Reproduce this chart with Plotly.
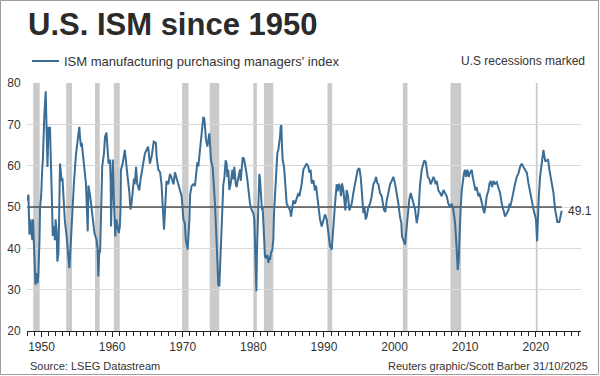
import plotly.graph_objects as go

# ---- data ----
years = [
    1948.00, 1948.15, 1948.30, 1948.45, 1948.70, 1948.80, 1948.90, 1949.05, 1949.15, 1949.30,
    1949.45, 1949.55, 1949.65, 1949.72, 1949.80, 1949.95, 1950.10, 1950.20, 1950.40, 1950.50,
    1950.60, 1950.85, 1951.00, 1951.10, 1951.20, 1951.45, 1951.52, 1951.60, 1951.75, 1951.90,
    1952.00, 1952.15, 1952.25, 1952.40, 1952.50, 1952.55, 1952.62, 1952.72, 1952.85, 1952.97,
    1953.10, 1953.30, 1953.55, 1953.80, 1953.95, 1954.10, 1954.30, 1954.50, 1954.60, 1954.90,
    1955.08, 1955.36, 1955.45, 1955.60, 1955.70, 1955.83, 1956.30, 1956.55, 1956.65, 1956.90,
    1957.10, 1957.25, 1957.40, 1957.50, 1957.80, 1957.95, 1958.05, 1958.20, 1958.30, 1958.40,
    1958.50, 1958.60, 1958.85, 1959.00, 1959.20, 1959.30, 1959.50, 1959.70, 1959.80, 1959.85,
    1959.95, 1960.10, 1960.25, 1960.45, 1960.60, 1960.75, 1960.95, 1961.10, 1961.20, 1961.25,
    1961.50, 1961.80, 1961.97, 1962.20, 1962.45, 1962.60, 1962.75, 1962.90, 1963.10, 1963.20,
    1963.30, 1963.40, 1963.55, 1963.85, 1964.05, 1964.35, 1964.50, 1964.65, 1965.10, 1965.25,
    1965.35, 1965.60, 1965.90, 1966.20, 1966.30, 1966.55, 1966.80, 1967.00, 1967.25, 1967.35,
    1967.50, 1967.70, 1967.95, 1968.20, 1968.45, 1968.70, 1968.90, 1969.15, 1969.40, 1969.60,
    1969.85, 1970.10, 1970.30, 1970.45, 1970.70, 1970.95, 1971.05, 1971.27, 1971.50, 1971.74,
    1971.88, 1972.07, 1972.21, 1972.35, 1972.54, 1972.68, 1972.92, 1973.06, 1973.15, 1973.30,
    1973.49, 1973.63, 1973.77, 1973.86, 1974.00, 1974.24, 1974.43, 1974.57, 1974.71, 1974.90,
    1975.04, 1975.18, 1975.28, 1975.42, 1975.61, 1975.75, 1975.90, 1976.00, 1976.08, 1976.22,
    1976.32, 1976.46, 1976.60, 1976.79, 1977.03, 1977.17, 1977.31, 1977.50, 1977.64, 1977.78,
    1977.92, 1978.11, 1978.21, 1978.35, 1978.49, 1978.68, 1978.82, 1978.96, 1979.15, 1979.29,
    1979.53, 1979.76, 1979.90, 1980.00, 1980.14, 1980.24, 1980.33, 1980.43, 1980.52, 1980.62,
    1980.71, 1980.85, 1980.95, 1981.04, 1981.13, 1981.23, 1981.32, 1981.42, 1981.51, 1981.65,
    1981.80, 1981.98, 1982.13, 1982.27, 1982.36, 1982.50, 1982.69, 1982.83, 1982.93, 1983.07,
    1983.21, 1983.40, 1983.54, 1983.68, 1983.78, 1983.87, 1983.97, 1984.06, 1984.16, 1984.35,
    1984.49, 1984.63, 1984.72, 1984.96, 1985.20, 1985.34, 1985.48, 1985.67, 1985.90, 1986.04,
    1986.14, 1986.38, 1986.52, 1986.71, 1986.85, 1987.08, 1987.32, 1987.56, 1987.79, 1987.93,
    1988.12, 1988.26, 1988.50, 1988.74, 1988.88, 1989.07, 1989.21, 1989.44, 1989.68, 1989.92,
    1990.15, 1990.39, 1990.62, 1990.86, 1991.10, 1991.24, 1991.43, 1991.57, 1991.80, 1991.95,
    1992.13, 1992.28, 1992.42, 1992.56, 1992.75, 1992.89, 1993.03, 1993.22, 1993.41, 1993.60,
    1993.93, 1994.16, 1994.40, 1994.64, 1994.78, 1995.02, 1995.20, 1995.35, 1995.49, 1995.58,
    1995.73, 1995.91, 1996.05, 1996.29, 1996.53, 1996.76, 1997.00, 1997.24, 1997.38, 1997.57,
    1997.71, 1997.94, 1998.18, 1998.32, 1998.51, 1998.70, 1998.89, 1999.12, 1999.36, 1999.60,
    1999.83, 2000.07, 2000.30, 2000.54, 2000.78, 2000.96, 2001.05, 2001.25, 2001.48, 2001.63,
    2001.82, 2001.96, 2002.10, 2002.29, 2002.43, 2002.66, 2002.90, 2003.14, 2003.37, 2003.61,
    2003.85, 2004.08, 2004.22, 2004.41, 2004.55, 2004.70, 2004.93, 2005.12, 2005.31, 2005.50,
    2005.64, 2005.83, 2005.97, 2006.21, 2006.44, 2006.68, 2006.92, 2007.15, 2007.39, 2007.62,
    2007.86, 2008.10, 2008.33, 2008.57, 2008.71, 2008.80, 2008.94, 2009.09, 2009.18, 2009.27,
    2009.37, 2009.51, 2009.65, 2009.84, 2009.98, 2010.13, 2010.32, 2010.50, 2010.69, 2010.93,
    2011.07, 2011.26, 2011.45, 2011.63, 2011.87, 2012.01, 2012.20, 2012.39, 2012.58, 2012.72,
    2012.86, 2013.05, 2013.29, 2013.43, 2013.62, 2013.81, 2014.00, 2014.23, 2014.47, 2014.71,
    2014.94, 2015.18, 2015.41, 2015.65, 2015.89, 2016.12, 2016.26, 2016.36, 2016.59, 2016.83,
    2017.06, 2017.30, 2017.54, 2017.77, 2018.01, 2018.25, 2018.48, 2018.72, 2018.96, 2019.19,
    2019.43, 2019.66, 2019.90, 2020.03, 2020.18, 2020.27, 2020.41, 2020.60, 2020.84, 2021.08,
    2021.22, 2021.36, 2021.55, 2021.74, 2021.93, 2022.12, 2022.31, 2022.50, 2022.73, 2022.90,
    2023.05, 2023.33, 2023.53, 2023.67,
]

ism = [
    51.5, 53.0, 43.3, 47.0, 42.0, 47.0, 42.5, 36.0, 31.2, 34.0,
    31.6, 33.5, 37.0, 42.0, 50.0, 52.5, 59.0, 61.5, 72.0, 77.7,
    78.0, 59.7, 69.4, 67.0, 69.4, 53.4, 48.5, 43.0, 45.3, 42.0,
    47.0, 44.0, 36.8, 38.9, 47.7, 55.0, 60.5, 59.0, 56.3, 57.0,
    52.0, 47.0, 43.0, 37.3, 35.2, 39.7, 47.0, 52.0, 56.0, 63.0,
    65.5, 69.4, 67.0, 64.6, 65.5, 63.0, 55.6, 44.1, 55.2, 52.6,
    50.0, 47.0, 45.5, 43.7, 42.0, 39.7, 33.2, 39.7, 39.0, 47.0,
    52.0, 59.8, 63.0, 67.0, 68.0, 65.0, 60.5, 61.5, 56.0, 45.3,
    52.0, 61.5, 52.0, 42.9, 47.0, 45.3, 43.7, 45.3, 50.0, 59.0,
    60.5, 63.8, 60.5, 57.3, 53.4, 49.4, 50.8, 54.5, 56.9, 55.5,
    57.3, 59.7, 55.7, 54.0, 56.9, 59.7, 61.3, 63.0, 64.6, 62.2,
    60.5, 62.2, 65.8, 65.5, 62.2, 59.0, 58.4, 55.5, 45.3, 44.5,
    49.4, 56.3, 55.5, 58.0, 56.9, 55.5, 58.4, 56.9, 55.5, 54.0,
    52.6, 47.0, 46.0, 42.0, 39.7, 47.0, 53.0, 55.1, 55.5, 55.1,
    58.3, 60.8, 59.8, 62.3, 64.6, 68.6, 71.8, 71.4, 69.1, 66.3,
    64.6, 65.8, 67.8, 65.5, 61.3, 59.7, 55.6, 50.8, 45.3, 38.0,
    31.2, 30.8, 35.6, 43.7, 51.8, 55.5, 57.0, 59.7, 61.3, 60.5,
    57.3, 59.0, 54.1, 55.6, 59.0, 56.7, 59.7, 55.6, 54.8, 56.3,
    57.9, 59.1, 56.3, 59.7, 62.0, 61.6, 59.7, 59.0, 56.7, 54.1,
    50.8, 49.3, 48.5, 48.5, 47.0, 39.7, 30.0, 29.6, 39.7, 47.0,
    52.5, 58.0, 56.7, 54.1, 51.6, 49.2, 50.0, 45.3, 40.5, 38.0,
    37.6, 38.4, 36.5, 38.0, 37.2, 38.9, 39.7, 42.1, 48.5, 52.5,
    59.0, 63.0, 63.8, 65.4, 67.0, 69.4, 69.8, 64.6, 61.3, 59.7,
    56.3, 54.0, 50.8, 50.0, 49.2, 47.7, 49.2, 51.6, 50.8, 51.6,
    52.6, 53.4, 52.6, 54.1, 55.6, 59.0, 59.7, 60.5, 59.7, 58.3,
    59.0, 55.7, 56.5, 54.0, 55.2, 52.6, 50.8, 47.0, 45.3, 47.0,
    48.2, 47.0, 43.7, 40.5, 39.7, 43.7, 48.5, 50.8, 55.5, 53.8,
    55.6, 54.8, 52.6, 55.7, 54.1, 50.8, 49.2, 54.1, 52.6, 49.2,
    50.8, 53.4, 55.6, 58.3, 59.0, 59.4, 57.3, 54.1, 50.8, 48.5,
    50.0, 47.0, 47.7, 50.0, 50.8, 52.6, 55.5, 56.3, 57.3, 55.7,
    55.5, 53.4, 52.6, 50.8, 49.2, 48.8, 51.6, 53.4, 55.5, 56.3,
    57.3, 55.6, 53.4, 50.8, 47.5, 46.1, 42.9, 42.1, 40.9, 43.7,
    47.0, 48.5, 52.0, 53.4, 52.6, 50.8, 49.4, 46.1, 48.5, 55.5,
    59.0, 60.5, 61.3, 60.9, 59.0, 57.3, 56.7, 55.5, 56.3, 57.3,
    56.7, 55.5, 56.3, 54.0, 53.4, 52.6, 54.1, 53.4, 52.6, 50.8,
    50.0, 50.8, 49.2, 46.1, 42.9, 39.7, 34.8, 37.2, 42.1, 47.7,
    50.0, 54.0, 56.3, 58.3, 59.0, 57.3, 59.0, 57.3, 58.3, 59.0,
    57.3, 55.6, 54.0, 54.8, 52.6, 53.4, 51.6, 50.8, 49.2, 48.5,
    50.0, 52.6, 54.0, 55.6, 56.3, 54.8, 56.3, 55.6, 56.0, 54.8,
    53.4, 50.8, 49.2, 47.7, 48.5, 49.2, 50.8, 50.0, 51.6, 54.0,
    55.6, 57.3, 58.1, 59.7, 60.5, 59.7, 59.0, 58.3, 55.7, 54.0,
    51.6, 49.5, 48.0, 47.0, 41.7, 47.0, 52.0, 57.3, 60.5, 63.8,
    62.2, 61.0, 61.3, 61.4, 59.0, 57.3, 55.7, 53.4, 49.5, 47.5,
    46.4, 46.4, 47.6, 49.1,
]

recession_start = [1948.83, 1953.50, 1957.58, 1960.25, 1969.92, 1973.83,
                   1980.00, 1981.50, 1990.50, 2001.17, 2007.92, 2020.00]
recession_end = [1949.75, 1954.33, 1958.25, 1961.08, 1970.83, 1975.17,
                 1980.50, 1982.83, 1991.17, 2001.83, 2009.42, 2020.25]

threshold = 50
y_ticks = [20, 30, 40, 50, 60, 70, 80]
x_ticks = [1950, 1960, 1970, 1980, 1990, 2000, 2010, 2020]

title_text = "U.S. ISM since 1950"
series_name = "ISM manufacturing purchasing managers' index"
note_text = "U.S recessions marked"
source_text = "Source: LSEG Datastream"
credit_text = "Reuters graphic/Scott Barber 31/10/2025"

# ---- styling ----
LINE = "#3b6e97"
TXT = "#333333"
FONT = "Liberation Sans, Arial, sans-serif"
W, H = 600, 376
ML, MR, MT, MB = 27, 19, 83, 45
PW, PH = W - ML - MR, H - MT - MB


def px(xp):
    return (xp - ML) / PW


def py(yp):
    return (H - MB - yp) / PH


fig = go.Figure()

# 50 reference line spanning the data
fig.add_trace(go.Scatter(x=[years[0], years[-1]], y=[threshold, threshold],
                         mode="lines", line=dict(color="#000000", width=1.2),
                         hoverinfo="skip", showlegend=False))

fig.add_trace(go.Scatter(x=years, y=ism, mode="lines",
                         line=dict(color=LINE, width=2),
                         name=series_name, showlegend=False))

shapes = []
for s, e in zip(recession_start, recession_end):
    shapes.append(dict(type="rect", xref="x", yref="paper", x0=s, x1=e, y0=0, y1=1,
                       fillcolor="#cacaca", line=dict(width=0), layer="below"))

# legend sample line
shapes.append(dict(type="line", xref="paper", yref="paper",
                   x0=px(32), x1=px(59), y0=py(61), y1=py(61),
                   line=dict(color=LINE, width=2)))
# outer frame
shapes.append(dict(type="rect", xref="paper", yref="paper",
                   x0=px(0.5), x1=px(598.5), y0=py(374.5), y1=py(0.5),
                   line=dict(color="#9d9d9d", width=1), fillcolor="rgba(0,0,0,0)"))

annotations = [
    dict(text=series_name, xref="paper", yref="paper", x=px(62), y=py(61),
         xanchor="left", yanchor="middle", showarrow=False,
         font=dict(size=13, color=TXT, family=FONT)),
    dict(text=note_text, xref="paper", yref="paper", x=px(587), y=py(61),
         xanchor="right", yanchor="middle", showarrow=False,
         font=dict(size=12, color=TXT, family=FONT)),
    dict(text=source_text, xref="paper", yref="paper", x=px(28), y=py(366),
         xanchor="left", yanchor="middle", showarrow=False,
         font=dict(size=11, color=TXT, family=FONT)),
    dict(text=credit_text, xref="paper", yref="paper", x=px(590), y=py(366),
         xanchor="right", yanchor="middle", showarrow=False,
         font=dict(size=11, color=TXT, family=FONT)),
    dict(text=f"{ism[-1]:.1f}", xref="x", yref="y", x=years[-1], y=ism[-1],
         xanchor="left", yanchor="middle", xshift=4, showarrow=False,
         font=dict(size=12, color=TXT, family=FONT)),
]

fig.update_layout(
    width=W, height=H,
    margin=dict(l=ML, r=MR, t=MT, b=MB, autoexpand=False),
    paper_bgcolor="white", plot_bgcolor="white",
    font=dict(family=FONT, color=TXT, size=12),
    title=dict(text=f"<b>{title_text}</b>", x=28 / W, xanchor="left",
               y=1 - 24 / H, yanchor="middle", yref="container",
               font=dict(size=31, color="#2b2b2b", family=FONT)),
    shapes=shapes,
    annotations=annotations,
    showlegend=False,
)

fig.update_xaxes(range=[1947.95, 2026.4], tickmode="array", tickvals=x_ticks,
                 ticktext=[str(t) for t in x_ticks], automargin=False,
                 showgrid=False, zeroline=False,
                 showline=True, linecolor="#222222", linewidth=1,
                 ticks="outside", ticklen=5, tickcolor="#222222",
                 minor=dict(dtick=1, tick0=1948, ticks="outside", ticklen=4,
                            tickcolor="#222222", showgrid=False),
                 tickfont=dict(size=12, color=TXT))
fig.update_yaxes(range=[20, 80], tickmode="array", tickvals=y_ticks,
                 automargin=False,
                 showgrid=True, gridcolor="#d9d9d9", gridwidth=1,
                 zeroline=False, showline=False,
                 ticks="outside", ticklen=3, tickcolor="rgba(0,0,0,0)",
                 tickfont=dict(size=12, color=TXT))

fig.write_html("out.html", config={"displayModeBar": False},
               post_script="document.body.style.margin='0px';")
